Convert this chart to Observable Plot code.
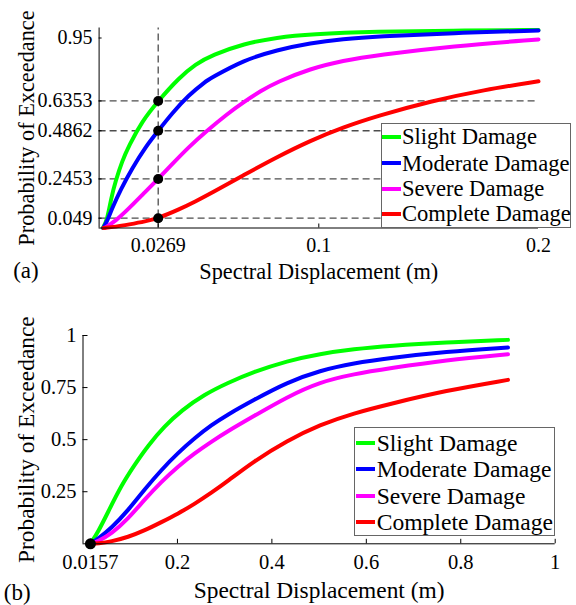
<!DOCTYPE html>
<html><head><meta charset="utf-8">
<script src="https://cdn.jsdelivr.net/npm/d3@7"></script>
<script src="https://cdn.jsdelivr.net/npm/@observablehq/plot@0.6"></script>
<style>
body{margin:0;background:#fff;}
#wrap{position:relative;width:576px;height:605px;overflow:hidden;font-family:"Liberation Serif","Times New Roman",serif;color:#000;}
.panel{position:absolute;left:0;}
.panel text{font-family:"Liberation Serif","Times New Roman",serif;}
.legend{position:absolute;background:#fff;border:1px solid #666;box-sizing:border-box;}
.legend .sw{position:absolute;height:4px;}
.legend .tx{position:absolute;white-space:nowrap;}
</style></head>
<body><div id="wrap"></div>
<script>
// ---------- data ----------
const damageStates = ["Slight Damage", "Moderate Damage", "Severe Damage", "Complete Damage"];
const seriesColors = ["#00ff00", "#0000ff", "#ff00ff", "#ff0000"];

// Panel (a): [spectral displacement (m), probability of exceedance]
const aSlight = [[0.0017,0],[0.0037,0.04],[0.0055,0.15],[0.0075,0.235],[0.0105,0.335],[0.0135,0.41],[0.0196,0.535],[0.0269,0.6353],[0.0363,0.75],[0.0439,0.82],[0.0515,0.865],[0.0659,0.922],[0.081,0.953],[0.0962,0.969],[0.1266,0.982],[0.16,0.987],[0.2,0.99]];
const aModerate = [[0.0019,0],[0.0035,0.03],[0.006,0.1],[0.0097,0.19],[0.0151,0.3],[0.0211,0.405],[0.0269,0.4862],[0.0333,0.575],[0.0408,0.665],[0.0484,0.732],[0.0507,0.748],[0.0659,0.84],[0.081,0.89],[0.0962,0.925],[0.111,0.945],[0.1266,0.958],[0.161,0.975],[0.2,0.9875]];
const aSevere = [[0.0025,0],[0.0075,0.035],[0.0135,0.097],[0.0196,0.165],[0.0269,0.2453],[0.0333,0.32],[0.0408,0.405],[0.0484,0.48],[0.0583,0.57],[0.0659,0.63],[0.0735,0.685],[0.081,0.73],[0.0962,0.797],[0.111,0.837],[0.1266,0.865],[0.161,0.91],[0.2,0.9425]];
const aComplete = [[0.002,0],[0.0075,0.006],[0.0135,0.0175],[0.0211,0.033],[0.0269,0.049],[0.0363,0.092],[0.0439,0.133],[0.0507,0.172],[0.0659,0.265],[0.081,0.355],[0.0962,0.437],[0.111,0.503],[0.1266,0.56],[0.151,0.634],[0.175,0.69],[0.2,0.734]];
const aRefX = 0.0269;
const aRefP = [0.6353, 0.4862, 0.2453, 0.049];
const aXTicks = [0.0269, 0.1, 0.2];
const aXTickLabels = ["0.0269", "0.1", "0.2"];
const aYTicks = [0.049, 0.2453, 0.4862, 0.6353, 0.95];
const aYTickLabels = ["0.049", "0.2453", "0.4862", "0.6353", "0.95"];

// Panel (b)
const bSlight = [[0.0157,0],[0.0318,0.056],[0.053,0.152],[0.0813,0.281],[0.1095,0.38],[0.1378,0.472],[0.173,0.565],[0.2084,0.64],[0.258,0.718],[0.306,0.772],[0.361,0.825],[0.432,0.878],[0.502,0.912],[0.573,0.935],[0.651,0.951],[0.767,0.967],[0.9,0.979]];
const bModerate = [[0.0157,0],[0.0318,0.024],[0.06,0.075],[0.0954,0.16],[0.1307,0.262],[0.166,0.355],[0.2014,0.437],[0.2367,0.508],[0.272,0.57],[0.306,0.62],[0.361,0.69],[0.432,0.775],[0.502,0.832],[0.573,0.867],[0.651,0.892],[0.767,0.922],[0.9,0.942]];
const bSevere = [[0.0157,0],[0.0318,0.012],[0.06,0.048],[0.0954,0.12],[0.1307,0.213],[0.166,0.298],[0.2014,0.372],[0.2367,0.435],[0.272,0.49],[0.306,0.54],[0.361,0.612],[0.432,0.705],[0.502,0.777],[0.573,0.815],[0.651,0.843],[0.767,0.882],[0.9,0.91]];
const bComplete = [[0.0157,0],[0.0318,0.002],[0.06,0.011],[0.0954,0.032],[0.1307,0.064],[0.166,0.104],[0.2014,0.145],[0.2367,0.192],[0.272,0.245],[0.306,0.3],[0.361,0.395],[0.432,0.495],[0.502,0.572],[0.573,0.627],[0.651,0.672],[0.767,0.735],[0.9,0.787]];
const bRefX = 0.0157;
const bRefP = [0];
const bXTicks = [0.0157, 0.2, 0.4, 0.6, 0.8, 1];
const bXTickLabels = ["0.0157", "0.2", "0.4", "0.6", "0.8", "1"];
const bYTicks = [0.25, 0.5, 0.75, 1];
const bYTickLabels = ["0.25", "0.5", "0.75", "1"];

const xTitle = "Spectral Displacement (m)";
const yTitle = "Probability of Exceedance";
const panelLabels = ["(a)", "(b)"];

// ---------- build ----------
const FONT = '"Liberation Serif","Times New Roman",serif';
function toRows(seriesList) {
  const rows = [];
  seriesList.forEach((s, k) => s.forEach(([x, p]) => rows.push({state: damageStates[k], x, p})));
  return rows;
}
const rowsA = toRows([aSlight, aModerate, aSevere, aComplete]);
const rowsB = toRows([bSlight, bModerate, bSevere, bComplete]);
const fmt = (ticks, labels) => { const m = new Map(ticks.map((t, i) => [t, labels[i]])); return d => m.get(d); };

function panel(cfg) {
  const {rows, xDomain, ticksX, labelsX, ticksY, labelsY, ml, mr, mt, mb, h, pxPerY, pxPerX,
         xTickLen, yTickLen, tickFont, titleFont, xPad, yPad, xTitleDy, yTitleDx, label, labelDx, labelDy, refs} = cfg;
  const marks = [];
  if (refs.dashed) {
    marks.push(Plot.ruleY(refs.p, {x1: xDomain[0], x2: xDomain[1], stroke: "#4d4d4d", strokeWidth: 1.3, strokeDasharray: "7,4"}));
    marks.push(Plot.ruleX([refs.x], {y1: 0, y2: 1, stroke: "#4d4d4d", strokeWidth: 1.3, strokeDasharray: "7,4"}));
  }
  marks.push(
    Plot.line(rows, {x: "x", y: "p", z: "state", stroke: "state", strokeWidth: 4, curve: "basis"}),
    Plot.dot(refs.p, {x: () => refs.x, y: d => d, r: refs.r, fill: "black", stroke: "none"}),
    Plot.ruleY([0], {x1: xDomain[0], x2: xDomain[1], stroke: "black", strokeWidth: 1}),
    Plot.ruleX([0], {y1: 0, y2: 1, stroke: "black", strokeWidth: 1}),
    Plot.ruleX(ticksX, {y1: 0, y2: xTickLen / pxPerY, stroke: "black", strokeWidth: 1}),
    Plot.ruleY(ticksY, {x1: 0, x2: yTickLen / pxPerX, stroke: "black", strokeWidth: 1}),
    Plot.axisX(ticksX, {tickSize: 0, tickPadding: xPad, tickFormat: fmt(ticksX, labelsX), fontSize: tickFont, label: null}),
    Plot.axisY(ticksY, {tickSize: 0, tickPadding: yPad, tickFormat: fmt(ticksY, labelsY), fontSize: tickFont, label: null}),
    Plot.text([xTitle], {text: d => d, frameAnchor: "bottom", dy: xTitleDy, lineAnchor: "bottom", textAnchor: "middle", fontSize: titleFont, fill: "black"}),
    Plot.text([yTitle], {text: d => d, frameAnchor: "left", dx: yTitleDx, rotate: -90, lineAnchor: "bottom", textAnchor: "middle", fontSize: titleFont, fill: "black"}),
    Plot.text([label], {text: d => d, frameAnchor: "bottom-left", dx: labelDx, dy: labelDy, lineAnchor: "bottom", textAnchor: "start", fontSize: 23, fill: "black"})
  );
  return Plot.plot({
    width: 576, height: h,
    marginLeft: ml, marginRight: mr, marginTop: mt, marginBottom: mb,
    style: {fontFamily: FONT, color: "black", background: "transparent", overflow: "visible"},
    x: {domain: xDomain},
    y: {domain: [0, 1]},
    color: {domain: damageStates, range: seriesColors},
    marks
  });
}

const wrap = document.getElementById("wrap");

const svgA = panel({
  rows: rowsA, xDomain: [0, 0.2], ticksX: aXTicks, labelsX: aXTickLabels, ticksY: aYTicks, labelsY: aYTickLabels,
  ml: 98.6, mr: 38, mt: 27.5, mb: 62.5, h: 290, pxPerY: 200, pxPerX: 2197,
  xTickLen: 4, yTickLen: 3, tickFont: 20, titleFont: 22.3, xPad: 10, yPad: 6.6,
  xTitleDy: 50.5, yTitleDx: 33 - 98.6, label: panelLabels[0], labelDx: 12.7 - 98.6, labelDy: 50.2,
  refs: {dashed: true, x: aRefX, p: aRefP, r: 5}
});
svgA.classList.add("panel"); svgA.style.top = "0px";
wrap.appendChild(svgA);

const svgB = panel({
  rows: rowsB, xDomain: [0, 1], ticksX: bXTicks, labelsX: bXTickLabels, ticksY: bYTicks, labelsY: bYTickLabels,
  ml: 82.5, mr: 21.3, mt: 35, mb: 61.7, h: 305, pxPerY: 208.3, pxPerX: 472.2,
  xTickLen: 4.5, yTickLen: 5, tickFont: 20.5, titleFont: 23.4, xPad: 10.4, yPad: 6.5,
  xTitleDy: 54.2, yTitleDx: 33.5 - 82.5, label: panelLabels[1], labelDx: 3.3 - 82.5, labelDy: 55.7,
  refs: {dashed: false, x: bRefX, p: bRefP, r: 5.5}
});
svgB.classList.add("panel"); svgB.style.top = "300px";
wrap.appendChild(svgB);

function legend(box) {
  const div = document.createElement("div");
  div.className = "legend";
  Object.assign(div.style, {left: box.left + "px", top: box.top + "px", width: box.width + "px", height: box.height + "px"});
  damageStates.forEach((name, i) => {
    const cy = box.rows[i];
    const sw = document.createElement("div");
    sw.className = "sw";
    Object.assign(sw.style, {left: box.swLeft + "px", width: box.swWidth + "px", top: (cy - 2) + "px", background: seriesColors[i]});
    const tx = document.createElement("div");
    tx.className = "tx";
    tx.textContent = name;
    Object.assign(tx.style, {left: box.txLeft + "px", top: (cy - box.font * 0.6) + "px", fontSize: box.font + "px", lineHeight: (box.font * 1.2) + "px"});
    div.appendChild(sw); div.appendChild(tx);
  });
  wrap.appendChild(div);
}
legend({left: 381, top: 123.3, width: 190, height: 104.5, rows: [12.4, 39, 64.7, 89.7], swLeft: 0, swWidth: 18.5, txLeft: 20, font: 22.6});
legend({left: 354, top: 426.7, width: 201.3, height: 109.5, rows: [15, 41.6, 68.3, 94], swLeft: 1, swWidth: 19, txLeft: 21.7, font: 23.6});
</script>
</body></html>
